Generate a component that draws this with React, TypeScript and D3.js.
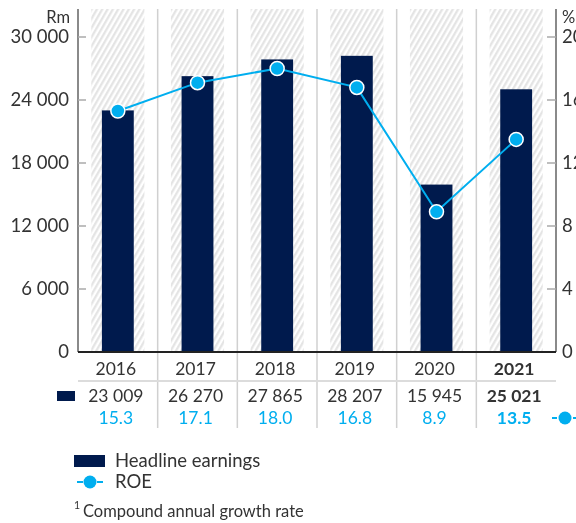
import React from "react";
import * as d3 from "d3";

const years = ["2016", "2017", "2018", "2019", "2020", "2021"];
const headlineEarnings = [23009, 26270, 27865, 28207, 15945, 25021];
const roe = [15.3, 17.1, 18.0, 16.8, 8.9, 13.5];
const earningsLabels = ["23 009", "26 270", "27 865", "28 207", "15 945", "25 021"];
const roeLabels = ["15.3", "17.1", "18.0", "16.8", "8.9", "13.5"];
const leftTicks = [0, 6000, 12000, 18000, 24000, 30000];
const rightTicks = [0, 4, 8, 12, 16, 20];

const W = 576;
const H = 523;
const NAVY = "#001a4d";
const BLUE = "#00aeef";
const TEXT = "#333";
const FONT = "Lato, 'Open Sans', sans-serif";

export default function App() {
  const left = 78;
  const right = 556;
  const top = 9;
  const base = 352;

  const x = d3.scaleBand<string>().domain(years).range([left, right]);
  const y = d3.scaleLinear().domain([0, 30000]).range([base, 37]);
  const yR = d3.scaleLinear().domain([0, 20]).range([base, 37]);
  const bw = x.bandwidth();
  const cx = (d: string) => (x(d) as number) + bw / 2;

  const line = d3
    .line<number>()
    .x((_, i) => cx(years[i]))
    .y((d) => yR(d));

  return (
    <div style={{ position: "fixed", left: 0, top: 0 }}>
      <svg width={W} height={H} style={{ display: "block", overflow: "hidden" }} fontFamily={FONT}>
        <defs>
          <pattern id="hatch" width="4.6" height="10" patternUnits="userSpaceOnUse" patternTransform="rotate(30)">
            <line x1="1.2" y1="0" x2="1.2" y2="10" stroke="#e3e3e3" strokeWidth="2.2" />
          </pattern>
        </defs>

        {/* hatched column backgrounds */}
        {years.map((d) => (
          <rect key={"h" + d} x={(x(d) as number) + bw / 6} y={top} width={(bw * 2) / 3} height={base - top} fill="url(#hatch)" />
        ))}

        {/* column separators */}
        {years.slice(1).map((d) => (
          <line key={"s" + d} x1={x(d)} x2={x(d)} y1={top} y2={428} stroke="#d0d0d0" strokeWidth={1.5} />
        ))}

        {/* table row separator */}
        <line x1={left} x2={right} y1={381} y2={381} stroke="#dcdcdc" strokeWidth={2} />

        {/* bars */}
        {years.map((d, i) => (
          <rect key={"b" + d} x={(x(d) as number) + bw * 0.3} y={y(headlineEarnings[i])} width={bw * 0.4} height={base - y(headlineEarnings[i])} fill={NAVY} />
        ))}

        {/* axes */}
        <line x1={left} x2={left} y1={top} y2={base} stroke="#8a8a8a" strokeWidth={2} />
        <line x1={right} x2={right} y1={top} y2={base} stroke="#8a8a8a" strokeWidth={2} />
        {leftTicks.slice(1).map((t) => (
          <line key={"lt" + t} x1={left} x2={left + 8} y1={y(t)} y2={y(t)} stroke="#aaa" strokeWidth={1.5} />
        ))}
        {rightTicks.slice(1).map((t) => (
          <line key={"rt" + t} x1={right - 9} x2={right} y1={yR(t)} y2={yR(t)} stroke="#aaa" strokeWidth={1.5} />
        ))}
        <line x1={left} x2={right} y1={base} y2={base} stroke="#222" strokeWidth={2} />

        {leftTicks.map((t) => (
          <text key={"ll" + t} x={69} y={y(t)} dy="0.35em" textAnchor="end" fontSize={18.5} fill={TEXT}>
            {d3.format(",")(t).replace(",", " ")}
          </text>
        ))}
        <text x={70} y={17} dy="0.35em" textAnchor="end" fontSize={16.5} fill={TEXT}>Rm</text>
        {rightTicks.map((t) => (
          <text key={"rl" + t} x={562} y={yR(t)} dy="0.35em" fontSize={18.5} fill={TEXT}>
            {t}
          </text>
        ))}
        <text x={562} y={17} dy="0.35em" fontSize={16.5} fill={TEXT}>%</text>

        {/* ROE line */}
        <path d={line(roe) as string} fill="none" stroke={BLUE} strokeWidth={2} />
        {roe.map((v, i) => (
          <circle key={"c" + i} cx={cx(years[i])} cy={yR(v)} r={7} fill={BLUE} stroke="#fff" strokeWidth={1.5} />
        ))}

        {/* table */}
        {years.map((d, i) => {
          const bold = i === years.length - 1 ? 700 : 400;
          return (
            <g key={"t" + d} textAnchor="middle" fontSize={17.5}>
              <text x={cx(d) - 2} y={369} dy="0.35em" fill={TEXT} fontWeight={bold}>{d}</text>
              <text x={cx(d) - 2} y={396} dy="0.35em" fill={TEXT} fontWeight={bold}>{earningsLabels[i]}</text>
              <text x={cx(d) - 2} y={418} dy="0.35em" fill={BLUE} fontWeight={bold}>{roeLabels[i]}</text>
            </g>
          );
        })}
        <rect x={57} y={391} width={18} height={10} fill={NAVY} />
        <line x1={552} x2={576} y1={418} y2={418} stroke={BLUE} strokeWidth={2.2} strokeDasharray="5 16" />
        <circle cx={565} cy={418} r={6.5} fill={BLUE} />

        {/* legend */}
        <rect x={74} y={455} width={31} height={12} fill={NAVY} />
        <text x={115} y={461} dy="0.35em" fontSize={18.5} fill={TEXT}>Headline earnings</text>
        <line x1={77} x2={103} y1={482} y2={482} stroke={BLUE} strokeWidth={2.2} strokeDasharray="6 14" />
        <circle cx={90} cy={482} r={6.5} fill={BLUE} />
        <text x={115} y={482} dy="0.35em" fontSize={18.5} fill={TEXT}>ROE</text>
        <text x={74} y={509} fontSize={10.5} fill={TEXT}>1</text>
        <text x={83} y={517} fontSize={16.5} fill={TEXT}>Compound annual growth rate</text>
      </svg>
    </div>
  );
}
